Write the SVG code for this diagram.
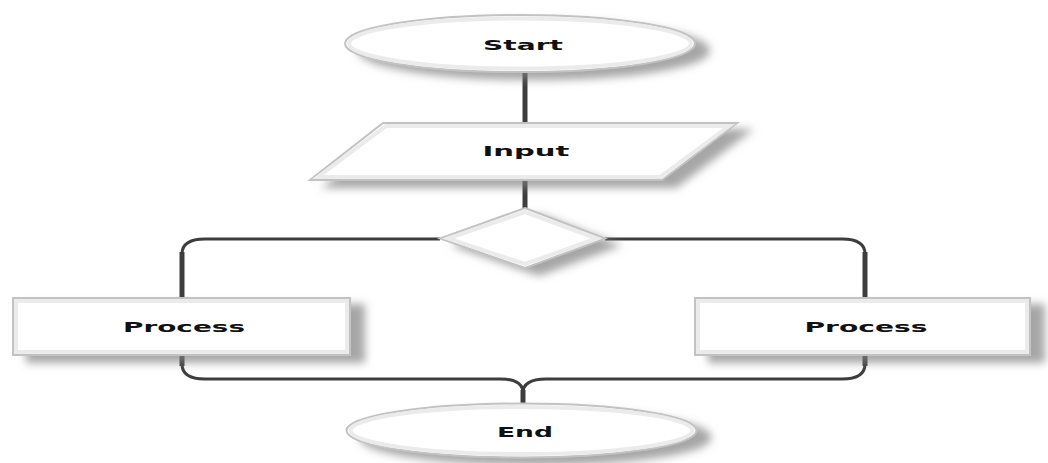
<svg xmlns="http://www.w3.org/2000/svg" width="1048" height="463" viewBox="0 0 1048 463">
  <defs>
    <filter id="shadow" x="-10%" y="-20%" width="130%" height="170%">
      <feDropShadow dx="14" dy="7" stdDeviation="4" flood-color="#808080" flood-opacity="0.7"/>
    </filter>
    <filter id="soft" x="-5%" y="-5%" width="110%" height="110%">
      <feGaussianBlur stdDeviation="0.6"/>
    </filter>
    <style>
      .shape { fill: #ffffff; stroke: #c2c2c2; stroke-width: 2; }
      .bevel { fill: none; stroke: #ebebeb; stroke-width: 4; }
      .label { font-family: "DejaVu Sans", "Liberation Sans", sans-serif; font-weight: bold; font-size: 14px; fill: #111111; text-anchor: middle; }
      .link { fill: none; stroke: #3c3c3c; stroke-linecap: butt; stroke-linejoin: round; }
      .vert { stroke-width: 5; }
      .horiz { stroke-width: 3; }
    </style>
  </defs>

  <rect width="1048" height="463" fill="#ffffff"/>

  <!-- connectors -->
  <g id="connectors" filter="url(#soft)">
    <path class="link vert" d="M 525 72 V 123"/>
    <path class="link vert" d="M 525 180 V 208"/>
    <path class="link horiz" d="M 440 239 H 205 Q 182 239 182 254"/>
    <path class="link vert" d="M 182 252 V 298"/>
    <path class="link horiz" d="M 605 239 H 842 Q 865 239 865 254"/>
    <path class="link vert" d="M 865 252 V 298"/>
    <path class="link vert" d="M 182 355 V 366"/>
    <path class="link horiz" d="M 182 364 Q 182 379 205 379 H 500 Q 523 379 523 393"/>
    <path class="link vert" d="M 865 355 V 366"/>
    <path class="link horiz" d="M 865 364 Q 865 379 842 379 H 546 Q 523 379 523 393"/>
    <path class="link vert" d="M 523 390 V 404"/>
  </g>

  <!-- start terminator -->
  <g id="start">
    <ellipse class="shape" cx="520" cy="43.5" rx="175" ry="28.5" filter="url(#shadow)"/>
    <ellipse class="bevel" cx="520" cy="43.5" rx="171" ry="25"/>
    <text class="label" x="523" y="50" textLength="80" lengthAdjust="spacingAndGlyphs">Start</text>
  </g>

  <!-- input -->
  <g id="input">
    <polygon class="shape" points="383,123 737,123 662,180 310,180" filter="url(#shadow)"/>
    <polygon class="bevel" points="386,126 729,126 660,177 318,177"/>
    <text class="label" x="526" y="156" textLength="87" lengthAdjust="spacingAndGlyphs">Input</text>
  </g>

  <!-- decision -->
  <g id="decision">
    <polygon class="shape" points="525,208 605,238.5 525,268 440,238.5" filter="url(#shadow)"/>
    <polygon class="bevel" points="525,212 597,238.5 525,264 448,238.5"/>
  </g>

  <!-- left process -->
  <g id="process-left">
    <rect class="shape" x="13" y="298" width="337" height="57" filter="url(#shadow)"/>
    <rect class="bevel" x="16" y="301" width="331" height="51"/>
    <text class="label" x="184" y="332" textLength="122" lengthAdjust="spacingAndGlyphs">Process</text>
  </g>

  <!-- right process -->
  <g id="process-right">
    <rect class="shape" x="695" y="298" width="335" height="57" filter="url(#shadow)"/>
    <rect class="bevel" x="698" y="301" width="329" height="51"/>
    <text class="label" x="866" y="332" textLength="123" lengthAdjust="spacingAndGlyphs">Process</text>
  </g>

  <!-- end terminator -->
  <g id="end">
    <ellipse class="shape" cx="521.5" cy="430.5" rx="175" ry="27" filter="url(#shadow)"/>
    <ellipse class="bevel" cx="521.5" cy="430.5" rx="171" ry="23.5"/>
    <text class="label" x="525" y="437" textLength="56" lengthAdjust="spacingAndGlyphs">End</text>
  </g>
</svg>
